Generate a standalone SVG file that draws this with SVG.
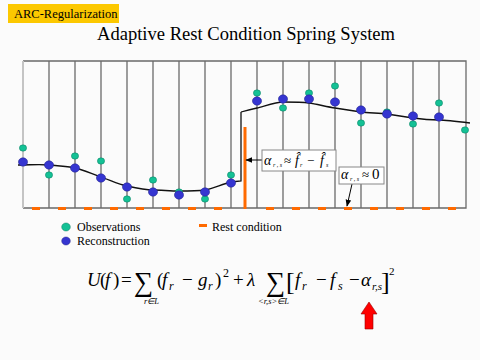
<svg xmlns="http://www.w3.org/2000/svg" width="480" height="360" viewBox="0 0 480 360" font-family="'Liberation Serif', 'Times New Roman', Times, serif">
<style>
text{font-family:'Liberation Serif','Times New Roman',Times,serif}
.t{fill:#000}
.i{font-style:italic}
.grid{stroke:#6a6a6a;stroke-width:1.3;fill:none}
.obs{fill:#14c195;stroke:#0b7c60;stroke-width:0.5}
.rec{fill:#3535d0;stroke:#22228a;stroke-width:0.5}
.rest{fill:#ff6a00}
.curve{fill:none;stroke:#111;stroke-width:1.3}
.box{fill:#fff;stroke:#888;stroke-width:1}
.lead{stroke:#000;stroke-width:1;fill:none}
</style>
<defs>
<marker id="ah" viewBox="0 0 10 10" refX="9" refY="5" markerWidth="7" markerHeight="7" orient="auto" markerUnits="userSpaceOnUse">
<path d="M0,1 L10,5 L0,9 z" fill="#000"/>
</marker>
</defs>
<rect width="480" height="360" fill="#fbfbfb"/>
<g id="tag">
<rect x="8" y="4" width="111" height="19" fill="#fcc800"/>
<text class="t" x="14" y="18" font-size="12.5">ARC-Regularization</text>
</g>
<text id="title" class="t" x="97" y="40" font-size="19" textLength="298" lengthAdjust="spacingAndGlyphs">Adaptive Rest Condition Spring System</text>
<g id="frame">
<path class="grid" d="M23,61 H466 V208 H23"/>
<line x1="23" y1="61" x2="23" y2="208" stroke="#c4c4c4" stroke-width="2"/>
<path class="grid" d="M49,61V208M75,61V208M101,61V208M127,61V208M153,61V208M179,61V208M205,61V208M231,61V208M257,61V208M283,61V208M309,61V208M335,61V208M361,61V208M387,61V208M413,61V208M439,61V208"/>
</g>
<g id="rest-conditions">
<rect class="rest" x="32" y="207" width="8" height="3"/>
<rect class="rest" x="58" y="207" width="8" height="3"/>
<rect class="rest" x="84" y="207" width="8" height="3"/>
<rect class="rest" x="110" y="207" width="8" height="3"/>
<rect class="rest" x="136" y="207" width="8" height="3"/>
<rect class="rest" x="162" y="207" width="8" height="3"/>
<rect class="rest" x="188" y="207" width="8" height="3"/>
<rect class="rest" x="214" y="207" width="8" height="3"/>
<rect class="rest" x="243.5" y="127" width="3" height="82"/>
<rect class="rest" x="266" y="207" width="8" height="3"/>
<rect class="rest" x="292" y="207" width="8" height="3"/>
<rect class="rest" x="318" y="207" width="8" height="3"/>
<rect class="rest" x="344" y="207" width="8" height="3"/>
<rect class="rest" x="370" y="207" width="8" height="3"/>
<rect class="rest" x="396" y="207" width="8" height="3"/>
<rect class="rest" x="422" y="207" width="8" height="3"/>
<rect class="rest" x="448" y="207" width="8" height="3"/>
</g>
<g id="reconstruction-curve">
<path class="curve" d="M18,165 C30,165 40,164 49,165 S66,166 75,168 S92,174 101,177 S118,184 127,186 S145,190 153,190 S170,191 179,191 S197,191 205,190 S222,184 231,182 L241,181 L241,112"/>
<path class="curve" d="M241,112 C248,110 252,109 257,108 S276,102 283,102 S302,102 309,103 S328,107 335,108 S354,111 361,112 S380,113 387,114 S406,117 413,118 S432,120 439,120 S462,122 470,123"/>
</g>
<g id="observations">
<ellipse class="obs" cx="23" cy="148" rx="3.6" ry="3.2"/>
<ellipse class="obs" cx="49" cy="175" rx="3.6" ry="3.2"/>
<ellipse class="obs" cx="75" cy="156" rx="3.6" ry="3.2"/>
<ellipse class="obs" cx="101" cy="161" rx="3.6" ry="3.2"/>
<ellipse class="obs" cx="127" cy="199" rx="3.6" ry="3.2"/>
<ellipse class="obs" cx="153" cy="180" rx="3.6" ry="3.2"/>
<ellipse class="obs" cx="179" cy="192" rx="3.6" ry="3.2"/>
<ellipse class="obs" cx="205" cy="199" rx="3.6" ry="3.2"/>
<ellipse class="obs" cx="231" cy="175" rx="3.6" ry="3.2"/>
<ellipse class="obs" cx="257" cy="93" rx="3.6" ry="3.2"/>
<ellipse class="obs" cx="283" cy="108" rx="3.6" ry="3.2"/>
<ellipse class="obs" cx="309" cy="93" rx="3.6" ry="3.2"/>
<ellipse class="obs" cx="335" cy="86" rx="3.6" ry="3.2"/>
<ellipse class="obs" cx="361" cy="123" rx="3.6" ry="3.2"/>
<ellipse class="obs" cx="387" cy="112" rx="3.6" ry="3.2"/>
<ellipse class="obs" cx="413" cy="124" rx="3.6" ry="3.2"/>
<ellipse class="obs" cx="439" cy="103" rx="3.6" ry="3.2"/>
<ellipse class="obs" cx="465" cy="130" rx="3.6" ry="3.2"/>
</g>
<g id="reconstruction">
<ellipse class="rec" cx="23" cy="162" rx="4.6" ry="4.2"/>
<ellipse class="rec" cx="49" cy="165" rx="4.6" ry="4.2"/>
<ellipse class="rec" cx="75" cy="168" rx="4.6" ry="4.2"/>
<ellipse class="rec" cx="101" cy="178" rx="4.6" ry="4.2"/>
<ellipse class="rec" cx="127" cy="187" rx="4.6" ry="4.2"/>
<ellipse class="rec" cx="153" cy="192" rx="4.6" ry="4.2"/>
<ellipse class="rec" cx="179" cy="195" rx="4.6" ry="4.2"/>
<ellipse class="rec" cx="205" cy="192" rx="4.6" ry="4.2"/>
<ellipse class="rec" cx="231" cy="183" rx="4.6" ry="4.2"/>
<ellipse class="rec" cx="257" cy="101" rx="4.6" ry="4.2"/>
<ellipse class="rec" cx="283" cy="99" rx="4.6" ry="4.2"/>
<ellipse class="rec" cx="309" cy="99" rx="4.6" ry="4.2"/>
<ellipse class="rec" cx="335" cy="102" rx="4.6" ry="4.2"/>
<ellipse class="rec" cx="361" cy="110" rx="4.6" ry="4.2"/>
<ellipse class="rec" cx="387" cy="114" rx="4.6" ry="4.2"/>
<ellipse class="rec" cx="413" cy="116" rx="4.6" ry="4.2"/>
<ellipse class="rec" cx="439" cy="117" rx="4.6" ry="4.2"/>
</g>
<g id="connectors">
<line class="lead" x1="262" y1="160" x2="246" y2="160" marker-end="url(#ah)"/>
<line class="lead" x1="352" y1="184" x2="347" y2="206" marker-end="url(#ah)"/>
</g>
<g id="label-jump">
<rect class="box" x="262" y="150" width="74" height="21"/>
<text class="t i" x="264" y="165" font-size="14">α</text>
<text class="t i" x="273" y="167" font-size="6">r , s</text>
<text class="t" x="284" y="165" font-size="13">≈</text>
<text class="t i" x="295" y="165" font-size="14">f̂</text>
<text class="t i" x="300" y="167" font-size="6">r</text>
<text class="t" x="307" y="165" font-size="13">−</text>
<text class="t i" x="320" y="165" font-size="14">f̂</text>
<text class="t i" x="326" y="167" font-size="6">s</text>
</g>
<g id="label-zero">
<rect class="box" x="339" y="167" width="45" height="17"/>
<text class="t i" x="341" y="179" font-size="14">α</text>
<text class="t i" x="350" y="181" font-size="6">r , s</text>
<text class="t" x="362" y="179" font-size="13">≈</text>
<text class="t" x="372" y="179" font-size="15">0</text>
</g>
<g id="legend">
<ellipse class="obs" cx="66" cy="227" rx="4.3" ry="4"/>
<text class="t" x="77" y="231" font-size="12">Observations</text>
<ellipse class="rec" cx="66" cy="241" rx="4.3" ry="4"/>
<text class="t" x="77" y="245" font-size="12">Reconstruction</text>
<rect class="rest" x="199" y="224" width="8" height="3"/>
<text class="t" x="212" y="231" font-size="12">Rest condition</text>
</g>
<g id="formula">
<text class="t i" x="87" y="286" font-size="19">U</text>
<text class="t" x="100" y="286" font-size="19">(</text>
<text class="t i" x="105" y="286" font-size="19">f</text>
<text class="t" x="113" y="286" font-size="19">)</text>
<text class="t" x="121" y="286" font-size="19">=</text>
<text class="t" x="134" y="291" font-size="27">∑</text>
<text class="t i" x="144" y="304" font-size="8.5">r∈L</text>
<text class="t" x="157" y="286" font-size="19">(</text>
<text class="t i" x="162" y="286" font-size="19">f</text>
<text class="t i" x="169" y="290" font-size="12">r</text>
<text class="t" x="182" y="286" font-size="19">−</text>
<text class="t i" x="198" y="286" font-size="19">g</text>
<text class="t i" x="208" y="290" font-size="12">r</text>
<text class="t" x="215" y="286" font-size="19">)</text>
<text class="t" x="223" y="277" font-size="12">2</text>
<text class="t" x="233" y="286" font-size="19">+</text>
<text class="t i" x="247" y="286" font-size="19">λ</text>
<text class="t" x="266" y="291" font-size="27">∑</text>
<text class="t i" x="258" y="304" font-size="8.5">&lt;r,s&gt;∈L</text>
<text class="t" x="286" y="290" font-size="26">[</text>
<text class="t i" x="295" y="286" font-size="19">f</text>
<text class="t i" x="302" y="290" font-size="12">r</text>
<text class="t" x="316" y="286" font-size="19">−</text>
<text class="t i" x="330" y="286" font-size="19">f</text>
<text class="t i" x="338" y="290" font-size="12">s</text>
<text class="t" x="349" y="286" font-size="19">−</text>
<text class="t i" x="361" y="286" font-size="19">α</text>
<text class="t i" x="372" y="290" font-size="11">r,s</text>
<text class="t" x="381" y="290" font-size="26">]</text>
<text class="t" x="389" y="275" font-size="11">2</text>
</g>
<path id="pointer" d="M369,302 L377,314 L373,314 L373,329 L365,329 L365,314 L361,314 Z" fill="#ff0000" stroke="#900" stroke-width="0.6"/>
</svg>
